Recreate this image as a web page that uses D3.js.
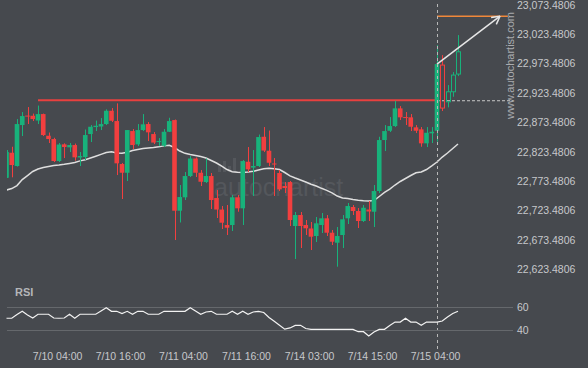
<!DOCTYPE html>
<html><head><meta charset="utf-8">
<script src="https://cdn.jsdelivr.net/npm/d3@7"></script>
<style>html,body{margin:0;padding:0;background:#46494e;overflow:hidden}</style>
</head><body><svg id="c" width="588" height="368"></svg>
<script>
// ---- data ----
const opens = [22779.2,22821.7,22799.1,22868.8,22884.9,22884.6,22876.5,22887.5,22850.6,22845.0,
22807.6,22836.0,22830.9,22834.8,22813.6,22814.4,22853.5,22865.4,22866.3,22870.5,
22893.1,22875.6,22802.5,22787.7,22858.6,22836.0,22860.3,22870.5,22853.5,22839.9,
22833.6,22857.4,22877.3,22723.1,22745.9,22782.1,22811.9,22787.7,22771.9,22782.1,
22744.7,22725.1,22698.8,22698.8,22745.9,22727.2,22806.4,22796.5,22799.1,22848.9,
22825.1,22803.4,22787.2,22765.1,22771.9,22697.1,22715.8,22698.8,22692.9,22680.1,
22698.8,22710.2,22685.7,22668.7,22681.8,22710.2,22729.4,22722.6,22705.6,22725.1,
22721.4,22756.6,22843.3,22859.1,22867.1,22897.2,22882.4,22881.9,22864.9,22861.5,
22837.7,22854.7,22859.1,22970.8,22908.4,22925.4,22955.5];
const highs = [22826.3,22831.9,22879.0,22890.9,22899.4,22888.3,22901.9,22888.3,22856.1,22847.2,
22838.2,22837.7,22838.2,22837.3,22822.9,22861.2,22868.8,22876.4,22880.7,22895.5,
22897.7,22905.7,22804.2,22860.3,22862.0,22870.5,22887.5,22873.9,22856.9,22846.7,
22862.0,22881.2,22878.2,22766.8,22788.9,22816.1,22813.6,22792.3,22811.9,22787.2,
22758.3,22731.1,22732.8,22749.8,22749.8,22809.3,22831.4,22826.3,22852.7,22865.4,
22859.5,22812.7,22792.3,22771.9,22773.6,22720.9,22720.9,22707.3,22703.9,22712.4,
22719.2,22715.8,22690.3,22695.4,22715.8,22736.2,22732.8,22727.7,22732.8,22739.6,
22766.8,22848.9,22868.8,22882.4,22910.1,22901.1,22890.9,22887.5,22868.8,22865.4,
22865.4,22865.4,23004.8,22987.8,22936.8,22958.9,23021.8];
const lows = [22778.7,22779.9,22798.2,22850.1,22870.5,22875.6,22870.5,22850.1,22838.2,22805.9,
22805.9,22812.7,22822.9,22808.1,22799.1,22809.3,22839.9,22858.6,22860.3,22868.8,
22873.9,22783.8,22743.0,22773.6,22828.0,22833.1,22858.6,22841.6,22836.5,22833.1,
22831.4,22856.9,22673.3,22703.1,22741.3,22780.4,22780.4,22765.1,22770.2,22726.0,
22710.7,22692.0,22681.8,22688.6,22721.4,22698.8,22788.9,22748.1,22797.4,22822.9,
22799.1,22748.1,22756.6,22753.2,22697.1,22641.0,22659.7,22681.8,22656.3,22669.9,
22685.2,22680.1,22664.8,22627.9,22659.7,22700.5,22715.8,22693.7,22703.9,22705.6,
22695.4,22753.2,22824.6,22856.9,22865.4,22877.3,22868.8,22858.6,22855.2,22831.9,
22831.4,22838.2,22840.4,22892.6,22898.9,22916.9,22952.1];
const closes = [22822.9,22800.8,22870.5,22884.1,22883.3,22879.0,22887.5,22851.8,22845.0,22807.6,
22835.7,22831.4,22834.8,22813.9,22816.1,22851.8,22865.9,22867.6,22870.5,22893.1,
22876.1,22803.7,22787.7,22860.3,22834.8,22860.3,22870.0,22856.4,22839.0,22841.6,
22857.4,22875.6,22723.1,22746.4,22782.1,22811.9,22787.7,22772.4,22782.1,22741.3,
22725.1,22702.7,22694.2,22745.9,22727.2,22807.6,22793.5,22799.1,22848.4,22825.4,
22804.7,22801.7,22759.5,22761.7,22707.3,22715.8,22697.1,22693.2,22678.9,22701.7,
22710.2,22685.7,22670.4,22680.1,22708.5,22731.1,22722.6,22705.6,22728.2,22721.8,
22756.6,22843.3,22858.6,22867.1,22897.2,22881.9,22881.6,22865.9,22859.1,22837.7,
22855.7,22857.4,22972.5,22897.7,22925.4,22953.8,22993.4];
const maValues = [22758.3,22760.8,22765.9,22776.1,22782.9,22789.8,22794.0,22796.5,22798.2,22799.9,
22800.8,22802.0,22803.4,22805.0,22807.9,22809.8,22812.7,22815.8,22819.0,22822.0,
22823.4,22821.2,22820.7,22822.4,22825.4,22827.2,22828.9,22829.7,22830.6,22831.7,
22833.4,22834.5,22830.6,22824.6,22820.7,22818.7,22817.0,22815.3,22812.7,22808.5,
22804.2,22799.1,22793.2,22789.4,22788.4,22788.1,22788.9,22790.1,22792.3,22794.3,
22795.2,22794.5,22793.2,22788.1,22782.4,22778.7,22775.3,22771.9,22768.2,22765.1,
22761.2,22757.8,22753.5,22748.1,22744.7,22743.9,22742.2,22741.0,22740.1,22739.6,
22740.5,22747.3,22754.4,22760.0,22766.8,22772.8,22777.9,22783.0,22787.7,22788.9,
22793.2,22799.4,22805.9,22814.4,22821.2,22828.9,22836.5];
const rsiValues = [50.2,50.2,53.4,56.1,53.0,50.4,53.6,53.6,53.6,50.4,
50.2,50.4,53.6,50.2,53.6,53.6,53.6,53.6,56.4,59.2,
56.1,56.1,54.2,56.1,53.6,56.1,56.1,53.6,53.6,53.6,
56.1,56.1,56.1,56.1,56.1,59.2,56.4,53.6,55.5,56.1,
53.6,53.6,53.6,56.1,53.6,56.1,53.6,55.5,56.1,55.1,
50.9,47.6,44.3,41.0,42.0,44.2,44.2,41.5,40.8,40.8,
40.8,40.8,40.8,40.8,40.8,40.8,40.8,38.8,38.8,35.2,
38.6,40.8,40.8,44.1,47.0,47.0,50.2,47.0,47.0,44.2,
47.0,47.0,47.0,47.9,51.3,54.2,56.1];
const xLabels = ["7/10 04:00","7/10 16:00","7/11 04:00","7/11 16:00","7/14 03:00","7/14 15:00","7/15 04:00"];
const xLabelIdx = [10,22,34,46,58,70,82];
const yTicks = [22623.4806,22673.4806,22723.4806,22773.4806,22823.4806,22873.4806,22923.4806,22973.4806,23023.4806,23073.4806];
const rsiTicks = [40,60];
const resistanceLevel = 22911;
const resistanceStartIdx = 6;
const patternEndIdx = 82;
const forecastLevel = 23054;
const arrowEndIdx = 94;
const forecastEndIdx = 95.5;
const firstHollowIdx = 83;

// ---- drawing ----
const W = 588, H = 368;
const BG = '#46494e', GREEN = '#18b27b', RED = '#f23f3f';
const FONT = '"Liberation Sans", Arial, sans-serif';
const svg = d3.select('#c');
svg.append('rect').attr('width', W).attr('height', H).attr('fill', BG);

const x = d3.scaleLinear().domain([0, 86]).range([6.5, 458]);
const y = d3.scaleLinear().domain([22623.4806, 23073.4806]).range([269.3, 4.7]);
const yr = d3.scaleLinear().domain([40, 60]).range([330.3, 306.7]);
const plotL = 7, plotR = 513;

const defs = svg.append('defs');
defs.append('clipPath').attr('id', 'clipMain').append('rect')
  .attr('x', plotL).attr('y', 0).attr('width', plotR - plotL).attr('height', 290);

// watermark
const wm = svg.append('g');
wm.append('text').attr('x', 214).attr('y', 196).attr('font-family', FONT)
  .attr('font-size', 25).attr('fill', '#54575c').text('autochartist');
[[0,8],[5,11],[10,6],[15,14]].forEach(([dx,h]) => {
  wm.append('rect').attr('x', 218 + dx).attr('y', 172 - h).attr('width', 3).attr('height', h).attr('fill', '#54575c');
});

const main = svg.append('g').attr('clip-path', 'url(#clipMain)');

// resistance line
main.append('line').attr('x1', x(resistanceStartIdx)).attr('x2', x(patternEndIdx))
  .attr('y1', y(resistanceLevel)).attr('y2', y(resistanceLevel))
  .attr('stroke', '#e8403f').attr('stroke-width', 2.2);
main.append('line').attr('x1', x(patternEndIdx)).attr('x2', plotR)
  .attr('y1', y(resistanceLevel) + 0.5).attr('y2', y(resistanceLevel) + 0.5)
  .attr('stroke', '#c8c8c8').attr('stroke-width', 1).attr('stroke-dasharray', '3,2');

// moving average
main.append('path').datum(maValues)
  .attr('d', d3.line().x((d, i) => x(i)).y(d => y(d)))
  .attr('fill', 'none').attr('stroke', '#dedede').attr('stroke-width', 1.5);

// candles
const idx = d3.range(opens.length);
const bw = 4.6;
idx.forEach(i => {
  const o = opens[i], c = closes[i], hi = highs[i], lo = lows[i];
  const col = c >= o ? GREEN : RED;
  const cx = Math.round(x(i)) + 0.5;
  const top = y(Math.max(o, c)), bot = y(Math.min(o, c));
  const hollow = i >= firstHollowIdx;
  if (hollow) {
    main.append('line').attr('x1', cx).attr('x2', cx).attr('y1', y(hi)).attr('y2', top)
      .attr('stroke', col).attr('stroke-width', 1);
    main.append('line').attr('x1', cx).attr('x2', cx).attr('y1', bot).attr('y2', y(lo))
      .attr('stroke', col).attr('stroke-width', 1);
    main.append('rect').attr('x', cx - 2).attr('y', top).attr('width', 4)
      .attr('height', Math.max(1, bot - top)).attr('fill', 'none')
      .attr('stroke', col).attr('stroke-width', 1);
  } else {
    main.append('line').attr('x1', cx).attr('x2', cx).attr('y1', y(hi)).attr('y2', y(lo))
      .attr('stroke', col).attr('stroke-width', 1);
    main.append('rect').attr('x', x(i) - bw / 2).attr('y', top).attr('width', bw)
      .attr('height', Math.max(1, bot - top)).attr('fill', col);
  }
});

// forecast line and arrow
svg.append('line').attr('x1', x(patternEndIdx)).attr('x2', x(forecastEndIdx))
  .attr('y1', y(forecastLevel)).attr('y2', y(forecastLevel))
  .attr('stroke', '#f0883a').attr('stroke-width', 1.5);
const ax1 = x(patternEndIdx), ay1 = y(closes[patternEndIdx]);
const ax2 = x(arrowEndIdx), ay2 = y(forecastLevel);
svg.append('line').attr('x1', ax1).attr('y1', ay1).attr('x2', ax2).attr('y2', ay2)
  .attr('stroke', '#e6e6e6').attr('stroke-width', 1.5);
const ang = Math.atan2(ay2 - ay1, ax2 - ax1);
[0.5, -0.5].forEach(a => {
  svg.append('line').attr('x1', ax2).attr('y1', ay2)
    .attr('x2', ax2 - 9 * Math.cos(ang + a)).attr('y2', ay2 - 9 * Math.sin(ang + a))
    .attr('stroke', '#e6e6e6').attr('stroke-width', 1.5);
});

// vertical dashed line at pattern end
svg.append('line').attr('x1', Math.round(x(patternEndIdx)) + 0.5).attr('x2', Math.round(x(patternEndIdx)) + 0.5)
  .attr('y1', 4).attr('y2', 350).attr('stroke', '#b8b8b8').attr('stroke-width', 1)
  .attr('stroke-dasharray', '3,3');

// vertical site text
svg.append('text').attr('transform', 'translate(514,119) rotate(-90)')
  .attr('font-family', FONT).attr('font-size', 11).attr('fill', '#a9abae')
  .text('www.autochartist.com');

// y axis
const yAxis = svg.append('g').attr('transform', 'translate(517,0)')
  .call(d3.axisRight(y).tickValues(yTicks).tickFormat(d3.format(',.4f')).tickSize(0).tickPadding(0));
yAxis.select('.domain').remove();
yAxis.selectAll('text').attr('font-family', FONT).attr('font-size', 10.5).attr('fill', '#c6c8cb');

// RSI panel
svg.append('text').attr('x', 15).attr('y', 296).attr('font-family', FONT)
  .attr('font-size', 11).attr('font-weight', 'bold').attr('fill', '#b4b6b9').text('RSI');
rsiTicks.forEach(v => {
  svg.append('line').attr('x1', plotL).attr('x2', plotR).attr('y1', Math.round(yr(v)) + 0.5).attr('y2', Math.round(yr(v)) + 0.5)
    .attr('stroke', '#65686c').attr('stroke-width', 1);
});
svg.append('path').datum(rsiValues)
  .attr('d', d3.line().x((d, i) => x(i)).y(d => yr(d)))
  .attr('fill', 'none').attr('stroke', '#f2f2f2').attr('stroke-width', 1.2);
const rAxis = svg.append('g').attr('transform', 'translate(517,0)')
  .call(d3.axisRight(yr).tickValues(rsiTicks).tickFormat(d3.format('d')).tickSize(0).tickPadding(0));
rAxis.select('.domain').remove();
rAxis.selectAll('text').attr('font-family', FONT).attr('font-size', 10.5).attr('fill', '#c6c8cb');

// x axis
const xAxis = svg.append('g').attr('transform', 'translate(-2,353)')
  .call(d3.axisBottom(x).tickValues(xLabelIdx).tickFormat((d, i) => xLabels[i]).tickSize(0).tickPadding(0));
xAxis.select('.domain').remove();
xAxis.selectAll('text').attr('font-family', FONT).attr('font-size', 10.5).attr('fill', '#c6c8cb');
</script></body></html>
